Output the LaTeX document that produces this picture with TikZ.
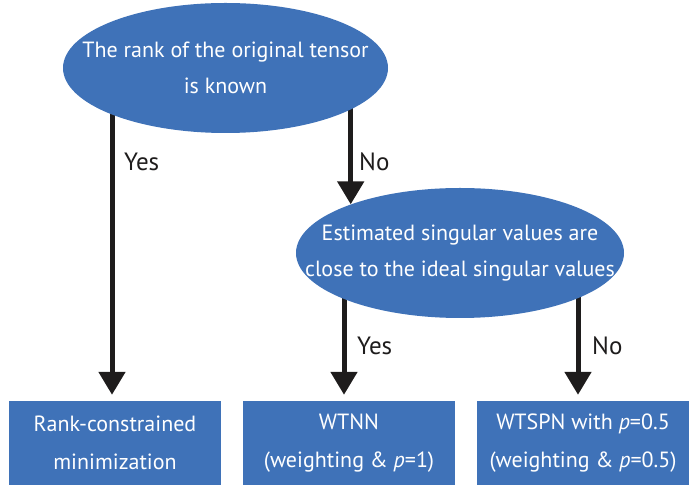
\documentclass[tikz,border=0pt]{standalone}
\usepackage{fontspec}
\setmainfont{PT Sans}
\usetikzlibrary{arrows.meta,shapes.geometric,backgrounds,calc}
\definecolor{nodeblue}{RGB}{63,114,184}
\definecolor{inkblack}{RGB}{30,28,28}
\begin{document}
\begin{tikzpicture}[x=1pt,y=1pt,
  decision/.style={ellipse, fill=nodeblue, text=white, inner xsep=-60pt, inner ysep=0pt,
    minimum width=325pt, minimum height=130pt, align=center,
    font=\fontsize{22}{36}\selectfont},
  result/.style={rectangle, fill=nodeblue, text=white, inner sep=0pt,
    minimum width=212pt, minimum height=84pt, align=center,
    font=\fontsize{22}{38}\selectfont},
  flow/.style={line width=5pt, draw=inkblack, -{Triangle[width=26pt,length=23pt]}},
  lbl/.style={text=inkblack, anchor=west, inner sep=0pt, font=\fontsize{25}{28}\selectfont}]
\useasboundingbox (0,0) rectangle (699,487);
\node[decision] (e1) at (225.5,419) {The rank of the original tensor\\is known};
\node[decision, minimum width=328pt] (e2) at (460,234) {Estimated singular values are\\close to the ideal singular values};
\node[result] (b1) at (115,44) {Rank-constrained\\minimization};
\node[result] (b2) at (349,44) {WTNN\\(weighting \& \textit{p}=1)};
\node[result] (b3) at (583,44) {WTSPN with \textit{p}=0.5\\(weighting \& \textit{p}=0.5)};
\coordinate (t1) at ($(b1.north)+(-3,6)$);
\coordinate (t2) at ($(b2.north)+(-5,6)$);
\coordinate (t3) at ($(b3.north)+(-5,6)$);
\begin{scope}[on background layer]
\draw[flow] (t1 |- e1.center) -- (t1);
\draw[flow] (e2.156 |- e1.center) -- (e2.156);
\draw[flow] (t2 |- e2.center) -- (t2);
\draw[flow] (t3 |- e2.center) -- (t3);
\end{scope}
\node[lbl] (l1) at (124,325) {Yes};
\node[lbl] (l2) at (359,325) {No};
\node[lbl] (l3) at (357,141) {Yes};
\node[lbl] (l4) at (592,141) {No};
\end{tikzpicture}
\end{document}
